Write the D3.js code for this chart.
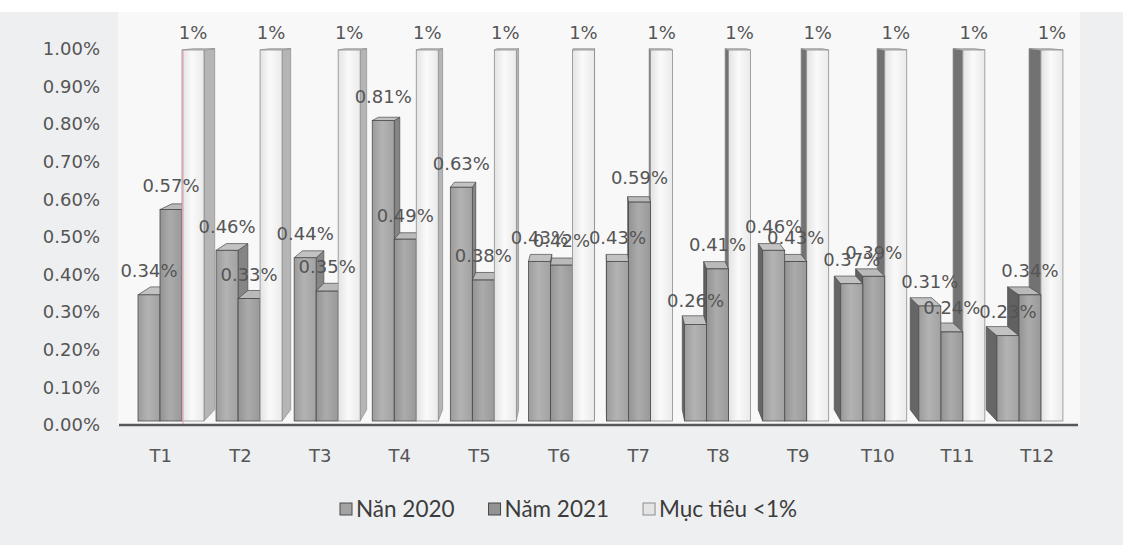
<!DOCTYPE html>
<html>
<head>
<meta charset="utf-8">
<script src="https://cdn.jsdelivr.net/npm/d3@7"></script>
<style>
  html, body { margin: 0; padding: 0; background: #ffffff; }
  svg { display: block; }
</style>
</head>
<body>
<svg id="chart" width="1123" height="545"></svg>
<script>
// Monthly rates (%) by series
const months = ["T1", "T2", "T3", "T4", "T5", "T6", "T7", "T8", "T9", "T10", "T11", "T12"];
const values2020 = [0.34, 0.46, 0.44, 0.81, 0.63, 0.43, 0.43, 0.26, 0.46, 0.37, 0.31, 0.23];
const values2021 = [0.57, 0.33, 0.35, 0.49, 0.38, 0.42, 0.59, 0.41, 0.43, 0.39, 0.24, 0.34];
const targetValues = [1, 1, 1, 1, 1, 1, 1, 1, 1, 1, 1, 1];
const seriesNames = ["Năn 2020", "Năm 2021", "Mục tiêu <1%"];
const yTicks = [0, 0.1, 0.2, 0.3, 0.4, 0.5, 0.6, 0.7, 0.8, 0.9, 1.0];

const svg = d3.select("#chart");
const W = 1123, H = 545;

// backdrop
svg.append("rect").attr("x", 0).attr("y", 0).attr("width", W).attr("height", H).attr("fill", "#ffffff");
svg.append("rect").attr("x", 0).attr("y", 12).attr("width", W).attr("height", H - 12).attr("fill", "#eeeff1");
svg.append("rect").attr("x", 118).attr("y", 12).attr("width", 962).attr("height", 413).attr("fill", "#f8f8f9");

// scales
const xLabel = d3.scaleBand().domain(months).range([121, 1077]).padding(0);
const xGroup = d3.scaleBand().domain(months).range([138, 1075]).padding(0);
const xSeries = d3.scaleBand().domain([0, 1, 2]).range([0, 66]).padding(0);
const yBar = d3.scaleLinear().domain([0, 1]).range([421, 50]);
const yAxisScale = d3.scaleLinear().domain([0, 1]).range([425, 49]);

// perspective: back edges recede toward a vanishing point
const vp = { x: 600, y: 0 }, depth = 0.027;
const back = (x, y) => [x + (vp.x - x) * depth, y + (vp.y - y) * depth];

// face colours per series
const styles = [
  { grad: ["#9b9b9b", "#b3b3b3", "#a2a2a2"], leftSide: "#666666", rightSide: "#858585", top: "#c2c2c2", stroke: "#4d4d4d" },
  { grad: ["#939393", "#ababab", "#999999"], leftSide: "#616161", rightSide: "#7f7f7f", top: "#bababa", stroke: "#474747" },
  { grad: ["#e3e3e4", "#fafafa", "#eaeaeb"], leftSide: "#727273", rightSide: "#b5b5b6", top: "#e0e0e1", stroke: "#8d8d8e" }
];

const defs = svg.append("defs");
styles.forEach((s, i) => {
  const g = defs.append("linearGradient").attr("id", "front" + i)
    .attr("x1", "0%").attr("x2", "100%").attr("y1", "0%").attr("y2", "0%");
  g.append("stop").attr("offset", "0%").attr("stop-color", s.grad[0]);
  g.append("stop").attr("offset", "45%").attr("stop-color", s.grad[1]);
  g.append("stop").attr("offset", "100%").attr("stop-color", s.grad[2]);
});

// assemble bars
const seriesValues = [values2020, values2021, targetValues];
const bars = [];
months.forEach((m, mi) => {
  seriesValues.forEach((vals, si) => {
    const x0 = xGroup(m) + xSeries(si);
    const x1 = x0 + xSeries.bandwidth();
    bars.push({ month: m, series: si, value: vals[mi], x0, x1 });
  });
});
// farther from the vanishing point drawn first
bars.sort((a, b) => Math.abs((b.x0 + b.x1) / 2 - vp.x) - Math.abs((a.x0 + a.x1) / 2 - vp.x));

const barLayer = svg.append("g");
bars.forEach(b => {
  const s = styles[b.series];
  const yT = yBar(b.value), yB = yBar(0);
  const [bx0, byT] = back(b.x0, yT);
  const [bx1] = back(b.x1, yT);
  const [, byB] = back(b.x0, yB);
  const g = barLayer.append("g");
  if (b.x1 < vp.x) {
    g.append("polygon")
      .attr("points", [[b.x1, yT], [bx1, byT], [bx1, byB], [b.x1, yB]].map(p => p.join(",")).join(" "))
      .attr("fill", s.rightSide).attr("stroke", s.stroke).attr("stroke-width", 0.7);
  } else if (b.x0 > vp.x) {
    g.append("polygon")
      .attr("points", [[b.x0, yT], [bx0, byT], [bx0, byB], [b.x0, yB]].map(p => p.join(",")).join(" "))
      .attr("fill", s.leftSide).attr("stroke", s.stroke).attr("stroke-width", 0.7);
  }
  g.append("polygon")
    .attr("points", [[b.x0, yT], [b.x1, yT], [bx1, byT], [bx0, byT]].map(p => p.join(",")).join(" "))
    .attr("fill", s.top).attr("stroke", s.stroke).attr("stroke-width", 0.7);
  g.append("rect")
    .attr("x", b.x0).attr("y", yT)
    .attr("width", b.x1 - b.x0).attr("height", yB - yT)
    .attr("fill", `url(#front${b.series})`)
    .attr("stroke", s.stroke).attr("stroke-width", 0.8);
});

// thin red edge line on the first target column
const firstTarget = bars.find(b => b.month === months[0] && b.series === 2);
svg.append("line")
  .attr("x1", firstTarget.x0 + 1).attr("x2", firstTarget.x0 + 1)
  .attr("y1", yBar(firstTarget.value)).attr("y2", yAxisScale(0))
  .attr("stroke", "#e59aa6").attr("stroke-width", 1);

// floor edge
svg.append("line")
  .attr("x1", 119).attr("x2", 1078)
  .attr("y1", yAxisScale(0)).attr("y2", yAxisScale(0))
  .attr("stroke", "#585858").attr("stroke-width", 2.6);

const textColor = "#555555";
const textSize = 18;

// value axis
const yAxis = svg.append("g")
  .attr("transform", "translate(103,0)")
  .call(d3.axisLeft(yAxisScale).tickValues(yTicks).tickSize(0).tickPadding(3)
    .tickFormat(d => d.toFixed(2) + "%"));
yAxis.select(".domain").remove();
yAxis.selectAll("text")
  .attr("font-family", "DejaVu Sans").attr("font-size", textSize).attr("fill", textColor);

// month axis
const xAxis = svg.append("g")
  .attr("transform", "translate(0,456)")
  .call(d3.axisBottom(xLabel).tickSize(0));
xAxis.select(".domain").remove();
xAxis.selectAll("text")
  .attr("y", 0).attr("dy", "0.35em")
  .attr("font-family", "DejaVu Sans").attr("font-size", textSize).attr("fill", textColor);

// data labels
const labels = svg.append("g")
  .attr("font-family", "DejaVu Sans").attr("font-size", textSize).attr("fill", textColor)
  .attr("text-anchor", "middle");
bars.forEach(b => {
  const isTarget = b.series === 2;
  labels.append("text")
    .attr("x", (b.x0 + b.x1) / 2)
    .attr("y", yBar(b.value) - (isTarget ? 17 : 24))
    .attr("dy", "0.35em")
    .text(isTarget ? d3.format(".0f")(b.value) + "%" : b.value.toFixed(2) + "%");
});

// legend
const legend = svg.append("g").attr("font-family", "Lato").attr("font-size", 22.5).attr("fill", "#3c3c3c");
const swatch = [
  { fill: "#a3a3a3", stroke: "#4d4d4d" },
  { fill: "#939393", stroke: "#474747" },
  { fill: "#e4e4e5", stroke: "#8d8d8e" }
];
let lx = 340;
seriesNames.forEach((name, i) => {
  legend.append("rect")
    .attr("x", lx).attr("y", 503).attr("width", 12).attr("height", 12)
    .attr("fill", swatch[i].fill).attr("stroke", swatch[i].stroke).attr("stroke-width", 1);
  const t = legend.append("text").attr("x", lx + 16).attr("y", 509).attr("dy", "0.35em").text(name);
  lx += 16 + t.node().getComputedTextLength() + 34;
});
</script>
</body>
</html>
